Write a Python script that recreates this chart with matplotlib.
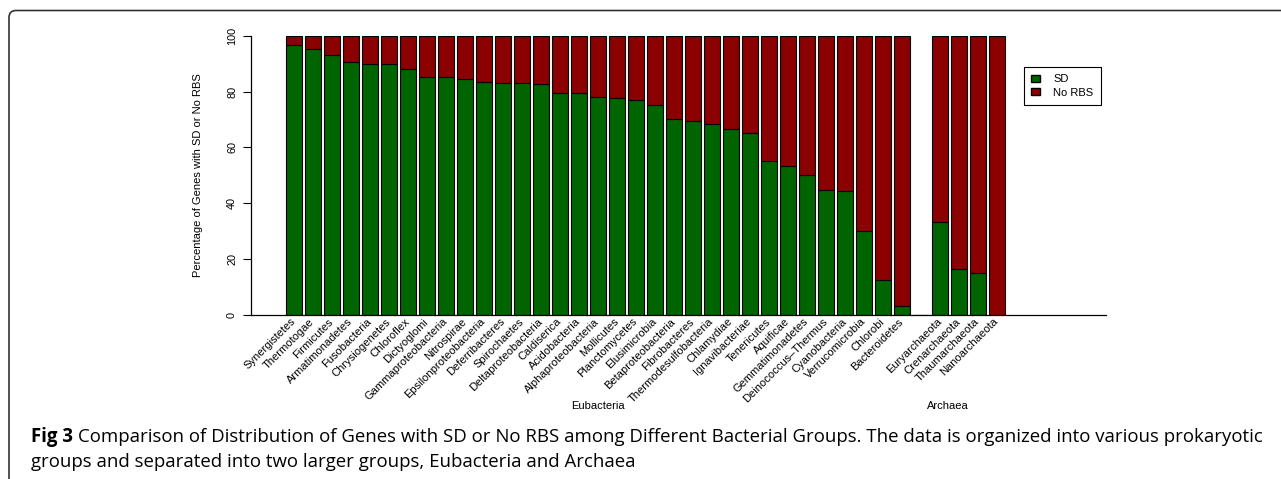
import matplotlib
matplotlib.use('Agg')
import matplotlib.pyplot as plt
from matplotlib.patches import Patch, FancyBboxPatch
import matplotlib.transforms as mtransforms
import numpy as np

# data (percent of genes)
eubacteria = ['Synergistetes', 'Thermotogae', 'Firmicutes', 'Armatimonadetes', 'Fusobacteria',
              'Chrysiogenetes', 'Chloroflex', 'Dictyoglomi', 'Gammaproteobacteria', 'Nitrospirae',
              'Epsilonproteobacteria', 'Deferribacteres', 'Spirochaetes', 'Deltaproteobacteria',
              'Caldiserica', 'Acidobacteria', 'Alphaproteobacteria', 'Mollicutes', 'Planctomycetes',
              'Elusimicrobia', 'Betaproteobacteria', 'Fibrobacteres', 'Thermodesulfobacteria',
              'Chlamydiae', 'Ignavibacteriae', 'Tenericutes', 'Aquificae', 'Gemmatimonadetes',
              'Deinococcus\u2013Thermus', 'Cyanobacteria', 'Verrucomicrobia', 'Chlorobi', 'Bacteroidetes']
eub_sd = [96.6, 95.3, 93.3, 90.5, 90.1, 89.8, 88.3, 85.4, 85.1, 84.4, 83.6, 83.3, 83.0, 82.9,
          79.6, 79.4, 78.1, 77.8, 77.0, 75.2, 70.2, 69.5, 68.3, 66.6, 65.1, 55.1, 53.4, 50.1,
          44.8, 44.2, 29.9, 12.3, 3.2]
eub_norbs = [3.4, 4.7, 6.7, 9.5, 9.9, 10.2, 11.7, 14.6, 14.9, 15.6, 16.4, 16.7, 17.0, 17.1,
             20.4, 20.6, 21.9, 22.2, 23.0, 24.8, 29.8, 30.5, 31.7, 33.4, 34.9, 44.9, 46.6, 49.9,
             55.2, 55.8, 70.1, 87.7, 96.8]

# empty separator bar between the two groups
spacer_sd = [0.0]
spacer_norbs = [0.0]

archaea = ['Euryarchaeota', 'Crenarchaeota', 'Thaumarchaeota', 'Nanoarchaeota']
arc_sd = [33.1, 16.3, 14.9, 0.0]
arc_norbs = [66.9, 83.7, 85.1, 100.0]

groups = ['Eubacteria', 'Archaea']

green = '#006400'
red = '#8B0000'

W, H = 1281, 479
fig = plt.figure(figsize=(W / 100, H / 100), dpi=100)
plt.rcParams['font.family'] = ['Liberation Sans', 'DejaVu Sans']

ax = fig.add_axes([251 / W, (H - 314.5) / H, (1106 - 251) / W, 278.5 / H])

labels = eubacteria + [''] + archaea
sd = eub_sd + spacer_sd + arc_sd
norbs = eub_norbs + spacer_norbs + arc_norbs
pos = 0.7 + 1.2 * np.arange(len(labels))   # barplot(space=0.2) positions

ax.bar(pos, sd, width=1, color=green, edgecolor='black', linewidth=0.8, label='SD')
ax.bar(pos, norbs, bottom=sd, width=1, color=red, edgecolor='black', linewidth=0.8, label='No RBS')

ax.set_xlim(-2, 52)
ax.set_ylim(0, 100)
for s in ['top', 'right']:
    ax.spines[s].set_visible(False)
ax.spines['left'].set_bounds(0, 100)
ax.spines['left'].set_linewidth(0.9)
ax.spines['bottom'].set_linewidth(0.9)

ax.set_yticks([0, 20, 40, 60, 80, 100])
ax.tick_params(axis='y', length=6, width=0.8, pad=4, labelsize=7.8)
for t in ax.get_yticklabels():
    t.set_rotation(90)
    t.set_va('center')
ax.set_ylabel('Percentage of Genes with SD or No RBS', fontsize=8)
ax.yaxis.set_label_coords(-0.056, 0.5)

ax.set_xticks(pos)
ax.set_xticklabels(labels, rotation=45, ha='right', va='center', rotation_mode='anchor', fontsize=8)
ax.tick_params(axis='x', length=0, pad=4)

eub_center = np.mean(pos[:len(eubacteria)])
trans = mtransforms.blended_transform_factory(ax.transData, ax.transAxes)
ax.text(eub_center, -0.329, groups[0], transform=trans, ha='center', va='center', fontsize=8)
ax.text(42.0, -0.329, groups[1], transform=trans, ha='center', va='center', fontsize=8)

ax.legend(handles=[Patch(facecolor=green, edgecolor='black', label='SD'),
                   Patch(facecolor=red, edgecolor='black', label='No RBS')],
          loc='upper left', bbox_to_anchor=(1024 / W, 1 - 67 / H), bbox_transform=fig.transFigure,
          fancybox=False, edgecolor='black', framealpha=1, borderaxespad=0, borderpad=0.65,
          handlelength=0.75, handleheight=0.65, handletextpad=1.25, labelspacing=0.3, fontsize=8)
ax.get_legend().get_frame().set_linewidth(0.8)

# journal frame (rounded top-left corner)
frame = FancyBboxPatch((0.09, -1), 14, H / 100 - 0.105 + 1,
                       boxstyle='round,pad=0,rounding_size=0.07',
                       transform=fig.dpi_scale_trans, fill=False, ec='#333333', lw=1.2)
fig.add_artist(frame)

# caption
cap_font = ['Open Sans', 'DejaVu Sans']
cap_size = 13.4
r = fig.canvas.get_renderer()
t1 = fig.text(31 / W, 1 - 442 / H, 'Fig 3', weight='bold', fontsize=cap_size, family=cap_font, va='baseline')
bb = t1.get_window_extent(renderer=r)
fig.text((bb.x1 + 5) / W, 1 - 442 / H,
         'Comparison of Distribution of Genes with SD or No RBS among Different Bacterial Groups. '
         'The data is organized into various prokaryotic',
         fontsize=cap_size, family=cap_font, va='baseline')
fig.text(31 / W, 1 - 467 / H, 'groups and separated into two larger groups, Eubacteria and Archaea',
         fontsize=cap_size, family=cap_font, va='baseline')

fig.savefig('out.png', dpi=100)
